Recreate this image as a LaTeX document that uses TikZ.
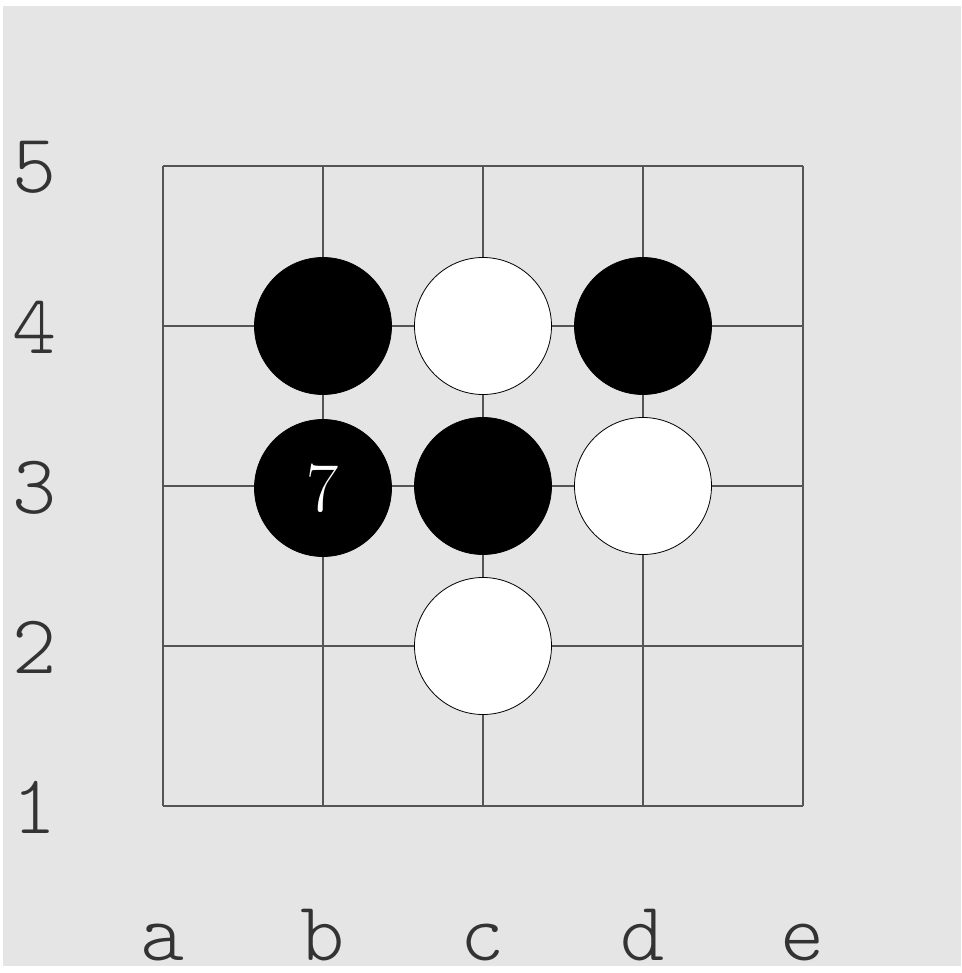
\documentclass[tikz,border=0pt]{standalone}
\usepackage{fontspec}
\newfontfamily\labelfont{Latin Modern Mono Light}
\definecolor{Board}{RGB}{229,229,229}
\definecolor{Ink}{RGB}{51,51,51}
\definecolor{Grid}{RGB}{85,85,85}
\tikzset{
  stone/.style={circle,draw=black,line width=0.8pt,minimum size=137pt,inner sep=0pt},
  blackstone/.style={stone,fill=black,text=white,font=\fontsize{70}{70}\selectfont},
  whitestone/.style={stone,fill=white},
  coordlabel/.style={anchor=base,text=Ink,inner sep=0pt,font=\labelfont\fontsize{84}{84}\selectfont},
}
\begin{document}
\begin{tikzpicture}[x=1pt,y=-1pt]
  \useasboundingbox (0,0) rectangle (961,973);
  \fill[Board] (3,6) rectangle (961,966);
  % board lines
  \foreach \i in {0,...,4} {
    \draw[Grid,line width=1.5pt] (163+160*\i,166) -- ++(0,640);
    \draw[Grid,line width=1.5pt] (163,166+160*\i) -- ++(640,0);
  }
  % coordinates
  \foreach \r [count=\k from 0] in {5,4,3,2,1}
    \node[coordlabel] (row\r) at (35,193+160*\k) {\r};
  \foreach \c [count=\k from 0] in {a,b,c,d,e}
    \node[coordlabel] (col\c) at (163+160*\k,960) {\c};
  % stones
  \node[blackstone] (b4) at (323,326) {};
  \node[whitestone] (c4) at (483,326) {};
  \node[blackstone] (d4) at (643,326) {};
  \node[blackstone] (b3) at (323,488) {7};
  \node[blackstone] (c3) at (483,486) {};
  \node[whitestone] (d3) at (643,486) {};
  \node[whitestone] (c2) at (483,646) {};
\end{tikzpicture}
\end{document}
